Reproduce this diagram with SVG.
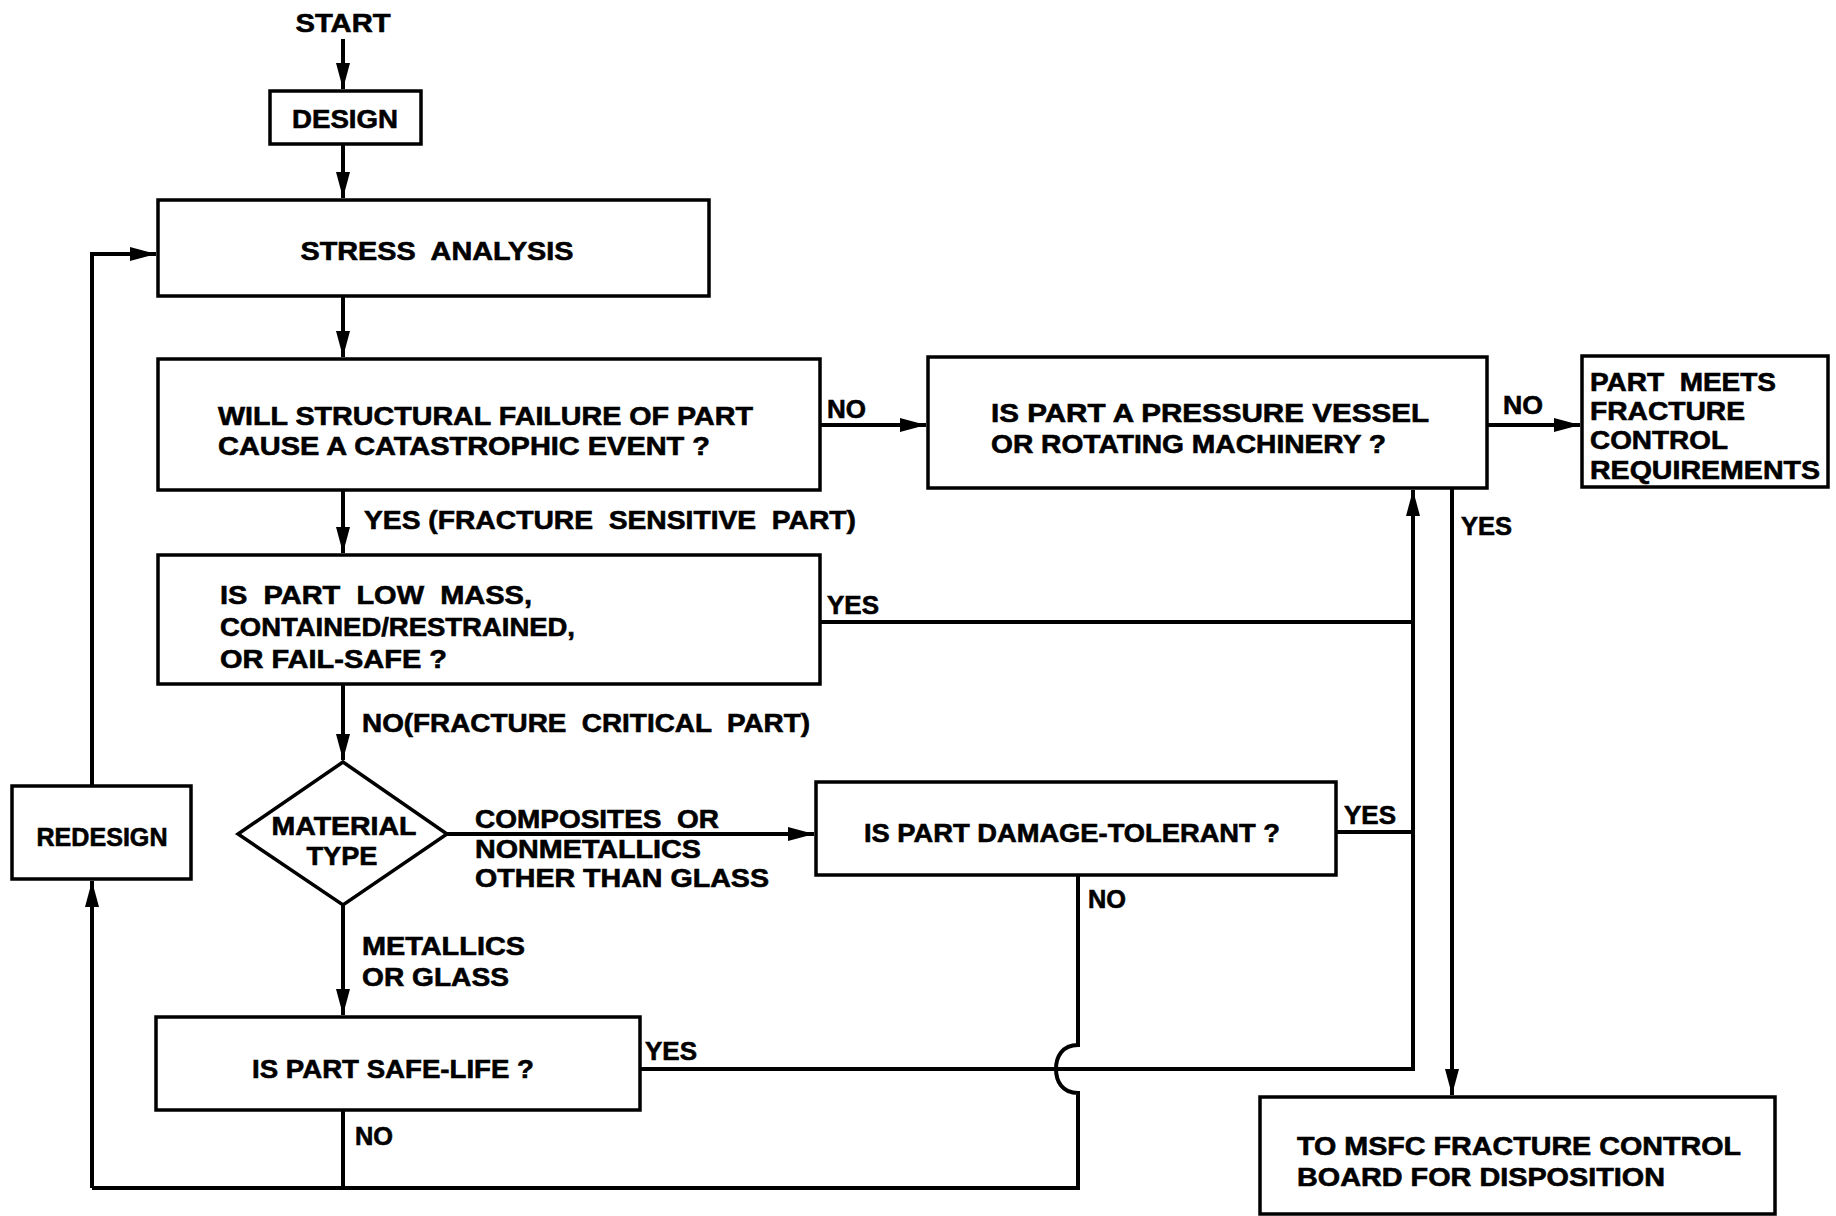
<svg xmlns="http://www.w3.org/2000/svg" width="1836" height="1216" viewBox="0 0 1836 1216">
<style>
.box{fill:#fff;stroke:#000;stroke-width:3.5}
.ln{fill:none;stroke:#000;stroke-width:4}
text{font-family:"Liberation Sans",Arial,sans-serif;font-weight:bold;font-size:26px;fill:#000;stroke:#000;stroke-width:0.6}
</style>
<defs>
<marker id="ah" markerUnits="userSpaceOnUse" markerWidth="28" markerHeight="14" refX="26" refY="7" orient="auto">
<path d="M0,0 L26,7 L0,14 z" fill="#000"/>
</marker>
</defs>
<rect width="1836" height="1216" fill="#fff"/>

<g id="connectors">
<path class="ln" d="M343,39 V89" marker-end="url(#ah)"/>
<path class="ln" d="M343,144 V198" marker-end="url(#ah)"/>
<path class="ln" d="M343,296 V357" marker-end="url(#ah)"/>
<path class="ln" d="M820,425 H926" marker-end="url(#ah)"/>
<path class="ln" d="M1487,425 H1580" marker-end="url(#ah)"/>
<path class="ln" d="M343,490 V553" marker-end="url(#ah)"/>
<path class="ln" d="M343,684 V760" marker-end="url(#ah)"/>
<path class="ln" d="M447,834 H814" marker-end="url(#ah)"/>
<path class="ln" d="M343,905 V1015" marker-end="url(#ah)"/>
<path class="ln" d="M820,622 H1413"/>
<path class="ln" d="M1336,832 H1413"/>
<path class="ln" d="M640,1069 H1413 V490" marker-end="url(#ah)"/>
<path class="ln" d="M1452,488 V1095" marker-end="url(#ah)"/>
<path class="ln" d="M1078,875 V1045 C1062,1045 1056,1057 1056,1069 C1056,1081 1062,1093 1078,1093 V1188 H92"/>
<path class="ln" d="M343,1110 V1188"/>
<path class="ln" d="M92,1188 V881" marker-end="url(#ah)"/>
<path class="ln" d="M92,786 V254 H156" marker-end="url(#ah)"/>
</g>

<g id="labels">
<text x="343" y="32" text-anchor="middle" textLength="95" lengthAdjust="spacingAndGlyphs">START</text>
<text x="827" y="418" textLength="39" lengthAdjust="spacingAndGlyphs">NO</text>
<text x="1503" y="414" textLength="40" lengthAdjust="spacingAndGlyphs">NO</text>
<text x="364" y="529" textLength="492" lengthAdjust="spacingAndGlyphs" xml:space="preserve">YES (FRACTURE  SENSITIVE  PART)</text>
<text x="827" y="614" textLength="52" lengthAdjust="spacingAndGlyphs">YES</text>
<text x="1461" y="535" textLength="51" lengthAdjust="spacingAndGlyphs">YES</text>
<text x="362" y="732" textLength="448" lengthAdjust="spacingAndGlyphs" xml:space="preserve">NO(FRACTURE  CRITICAL  PART)</text>
<text x="475" y="828" textLength="244" lengthAdjust="spacingAndGlyphs" xml:space="preserve">COMPOSITES  OR</text>
<text x="475" y="858" textLength="226" lengthAdjust="spacingAndGlyphs">NONMETALLICS</text>
<text x="475" y="887" textLength="294" lengthAdjust="spacingAndGlyphs">OTHER THAN GLASS</text>
<text x="1344" y="824" textLength="52" lengthAdjust="spacingAndGlyphs">YES</text>
<text x="1088" y="908" textLength="38" lengthAdjust="spacingAndGlyphs">NO</text>
<text x="362" y="955" textLength="163" lengthAdjust="spacingAndGlyphs">METALLICS</text>
<text x="362" y="986" textLength="147" lengthAdjust="spacingAndGlyphs">OR GLASS</text>
<text x="645" y="1060" textLength="52" lengthAdjust="spacingAndGlyphs">YES</text>
<text x="355" y="1145" textLength="38" lengthAdjust="spacingAndGlyphs">NO</text>
</g>

<g id="design">
<rect class="box" x="270" y="91" width="151" height="53"/>
<text x="345" y="128" text-anchor="middle" textLength="106" lengthAdjust="spacingAndGlyphs">DESIGN</text>
</g>
<g id="stress">
<rect class="box" x="158" y="200" width="551" height="96"/>
<text x="437" y="260" text-anchor="middle" textLength="273" lengthAdjust="spacingAndGlyphs" xml:space="preserve">STRESS  ANALYSIS</text>
</g>
<g id="catastrophic">
<rect class="box" x="158" y="359" width="662" height="131"/>
<text x="218" y="425" textLength="535" lengthAdjust="spacingAndGlyphs">WILL STRUCTURAL FAILURE OF PART</text>
<text x="218" y="455" textLength="492" lengthAdjust="spacingAndGlyphs">CAUSE A CATASTROPHIC EVENT ?</text>
</g>
<g id="pressure">
<rect class="box" x="928" y="357" width="559" height="131"/>
<text x="991" y="422" textLength="438" lengthAdjust="spacingAndGlyphs">IS PART A PRESSURE VESSEL</text>
<text x="991" y="453" textLength="395" lengthAdjust="spacingAndGlyphs">OR ROTATING MACHINERY ?</text>
</g>
<g id="meets">
<rect class="box" x="1582" y="356" width="246" height="131"/>
<text x="1590" y="391" textLength="186" lengthAdjust="spacingAndGlyphs" xml:space="preserve">PART  MEETS</text>
<text x="1590" y="420" textLength="155" lengthAdjust="spacingAndGlyphs">FRACTURE</text>
<text x="1590" y="449" textLength="138" lengthAdjust="spacingAndGlyphs">CONTROL</text>
<text x="1590" y="479" textLength="230" lengthAdjust="spacingAndGlyphs">REQUIREMENTS</text>
</g>
<g id="lowmass">
<rect class="box" x="158" y="555" width="662" height="129"/>
<text x="220" y="604" textLength="312" lengthAdjust="spacingAndGlyphs" xml:space="preserve">IS  PART  LOW  MASS,</text>
<text x="220" y="636" textLength="355" lengthAdjust="spacingAndGlyphs">CONTAINED/RESTRAINED,</text>
<text x="220" y="668" textLength="227" lengthAdjust="spacingAndGlyphs">OR FAIL-SAFE ?</text>
</g>
<g id="material">
<polygon class="box" points="343,762 447,834 343,905 238,834"/>
<text x="344" y="835" text-anchor="middle" textLength="145" lengthAdjust="spacingAndGlyphs">MATERIAL</text>
<text x="342" y="865" text-anchor="middle" textLength="71" lengthAdjust="spacingAndGlyphs">TYPE</text>
</g>
<g id="damage">
<rect class="box" x="816" y="782" width="520" height="93"/>
<text x="864" y="842" textLength="416" lengthAdjust="spacingAndGlyphs">IS PART DAMAGE-TOLERANT ?</text>
</g>
<g id="safelife">
<rect class="box" x="156" y="1017" width="484" height="93"/>
<text x="252" y="1078" textLength="282" lengthAdjust="spacingAndGlyphs">IS PART SAFE-LIFE ?</text>
</g>
<g id="redesign">
<rect class="box" x="12" y="786" width="179" height="93"/>
<text x="102" y="846" text-anchor="middle" textLength="131" lengthAdjust="spacingAndGlyphs">REDESIGN</text>
</g>
<g id="msfc">
<rect class="box" x="1260" y="1097" width="515" height="117"/>
<text x="1297" y="1155" textLength="444" lengthAdjust="spacingAndGlyphs">TO MSFC FRACTURE CONTROL</text>
<text x="1297" y="1186" textLength="368" lengthAdjust="spacingAndGlyphs">BOARD FOR DISPOSITION</text>
</g>
</svg>
